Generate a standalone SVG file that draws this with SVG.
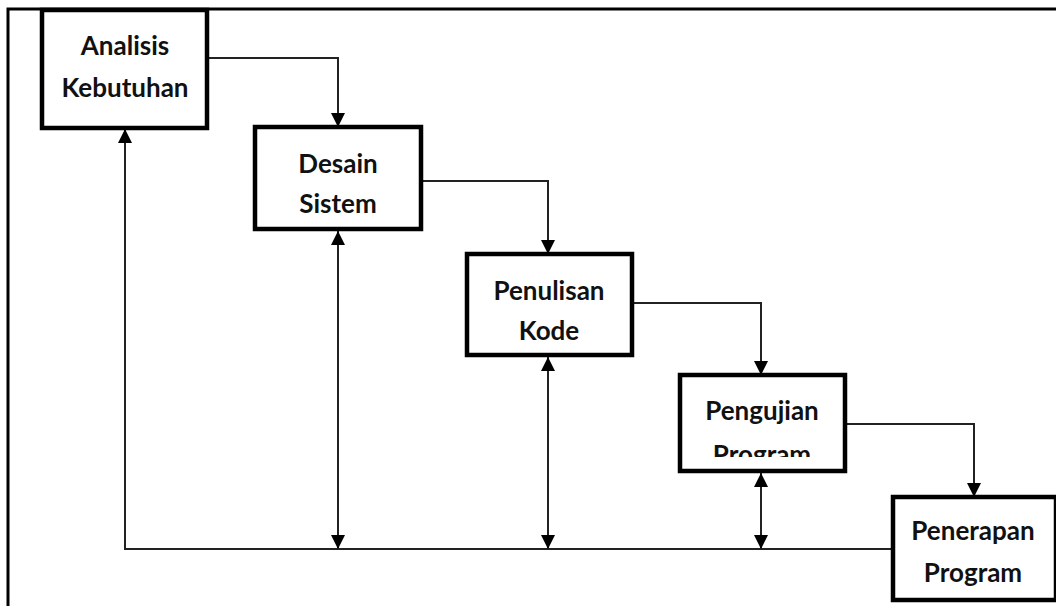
<svg xmlns="http://www.w3.org/2000/svg" width="1056" height="606" viewBox="0 0 1056 606">
<style>
.box{fill:#fff;stroke:#000;stroke-width:4.5}
.lbl{font-family:Lato,"Liberation Sans",sans-serif;font-weight:700;font-size:26px;fill:#111;text-anchor:middle}
.con{fill:none;stroke:#222;stroke-width:2}
</style>
<defs>
<marker id="ah" viewBox="0 0 10 10" refX="10" refY="5" markerWidth="14" markerHeight="14" markerUnits="userSpaceOnUse" orient="auto-start-reverse">
<path d="M0,0 L10,5 L0,10 z" fill="#000"/>
</marker>
<clipPath id="clipP"><rect x="680" y="375" width="170" height="82"/></clipPath>
</defs>
<rect width="1056" height="606" fill="#fff"/>
<path d="M8,606 V9 H1056" fill="none" stroke="#000" stroke-width="3"/>
<g id="connectors">
<path class="con" d="M207,58 H338 V127" marker-end="url(#ah)"/>
<path class="con" d="M421,181 H548 V254" marker-end="url(#ah)"/>
<path class="con" d="M632,303 H761 V375" marker-end="url(#ah)"/>
<path class="con" d="M845,424 H974 V497" marker-end="url(#ah)"/>
<path class="con" d="M893,549 H125 V129" marker-end="url(#ah)"/>
<path class="con" d="M338,231 V549" marker-start="url(#ah)" marker-end="url(#ah)"/>
<path class="con" d="M548,357 V549" marker-start="url(#ah)" marker-end="url(#ah)"/>
<path class="con" d="M761,473 V549" marker-start="url(#ah)" marker-end="url(#ah)"/>
</g>
<g id="analisis">
<rect class="box" x="42" y="10" width="165" height="118"/>
<text class="lbl" x="125" y="55">Analisis</text>
<text class="lbl" x="125" y="97">Kebutuhan</text>
</g>
<g id="desain">
<rect class="box" x="255" y="127" width="166" height="102"/>
<text class="lbl" x="338" y="173">Desain</text>
<text class="lbl" x="338" y="213">Sistem</text>
</g>
<g id="penulisan">
<rect class="box" x="467" y="254" width="165" height="101"/>
<text class="lbl" x="549" y="300">Penulisan</text>
<text class="lbl" x="549" y="340">Kode</text>
</g>
<g id="pengujian">
<rect class="box" x="680" y="375" width="165" height="96"/>
<text class="lbl" x="762" y="420">Pengujian</text>
<text class="lbl" x="762" y="464" clip-path="url(#clipP)">Program</text>
</g>
<g id="penerapan">
<rect class="box" x="893" y="497" width="163" height="103"/>
<text class="lbl" x="973" y="540">Penerapan</text>
<text class="lbl" x="973" y="582">Program</text>
</g>
</svg>
